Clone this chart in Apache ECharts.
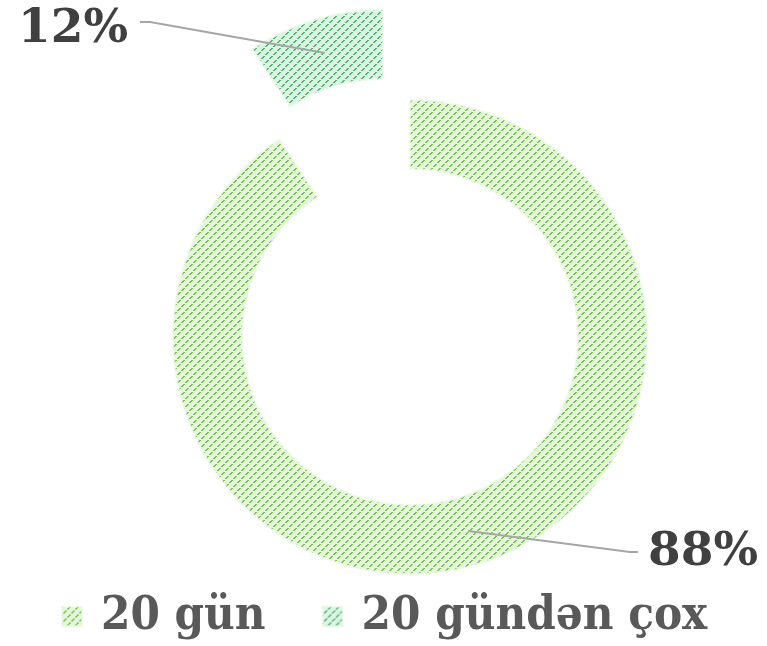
<!DOCTYPE html>
<html>
<head>
<meta charset="utf-8">
<script src="https://cdn.jsdelivr.net/npm/echarts@6/dist/echarts.min.js"></script>
<style>
html,body{margin:0;padding:0;background:#fff;}
#c{width:767px;height:646px;}
</style>
</head>
<body>
<div id="c"></div>
<script>
// ---- data ----
const categories = ['20 gün', '20 gündən çox'];
const shares = [90.7, 9.3];          // slice sizes as drawn in the picture
const labelTexts = ['88%', '12%'];   // printed data labels
const explodedIndex = 1;

// ---- styles ----
function makePattern(bg, fg) {
  const c = document.createElement('canvas');
  c.width = 8; c.height = 8;
  const g = c.getContext('2d');
  g.fillStyle = bg; g.fillRect(0, 0, 8, 8);
  g.fillStyle = fg;
  for (let y = 0; y < 8; y++) {
    if (y % 4 === 3) continue;
    const x = ((7 - y) % 8 + 8) % 8;
    g.fillRect(x, y, 2, 1);
    if (x === 7) g.fillRect(0, y, 1, 1);
  }
  return { image: c, repeat: 'repeat' };
}
const fills = [makePattern('#e6f5de', '#78c64c'), makePattern('#dcf3e6', '#4fbb6d')];
const labelPos = [
  { x: 648, y: 553 },
  { x: 18, y: 30 }
];
const center = [410, 337];
const ringInner = 168, ringOuter = 237, explodeDist = 94;
const labelFont = { family: '"DejaVu Serif", serif', size: 47 };
const total = shares.reduce((a, b) => a + b, 0);

// bisector angle (degrees clockwise from 12 o'clock) for each slice
const bisect = [];
let acc = 0;
shares.forEach(v => { bisect.push((acc + v / 2) / total * 360); acc += v; });
function polar(c, r, deg) {
  const a = deg * Math.PI / 180;
  return [c[0] + r * Math.sin(a), c[1] - r * Math.cos(a)];
}
const centers = categories.map((_, i) =>
  i === explodedIndex ? polar(center, explodeDist, bisect[i]) : center);

function textWidth(t) {
  const g = document.createElement('canvas').getContext('2d');
  g.font = 'bold ' + labelFont.size + 'px ' + labelFont.family;
  return g.measureText(t).width;
}

function makeSeries(idx) {
  const c = centers[idx];
  return {
    type: 'pie',
    center: c,
    radius: [ringInner, ringOuter],
    startAngle: 90,
    clockwise: true,
    avoidLabelOverlap: false,
    emphasis: { disabled: true },
    itemStyle: { borderWidth: 2, borderColor: 'rgba(238,249,232,0.7)' },
    label: {
      show: true, position: 'outside',
      formatter: p => labelTexts[p.dataIndex],
      fontFamily: labelFont.family, fontWeight: 'bold',
      fontSize: labelFont.size, color: '#404040'
    },
    labelLine: { show: false },
    labelLayout: function (params) {
      const lp = labelPos[params.dataIndex];
      return { x: lp.x, y: lp.y, align: 'left', verticalAlign: 'middle' };
    },
    data: categories.map((name, i) => {
      const on = i === idx;
      return {
        name: on ? name : '',
        value: shares[i],
        itemStyle: on ? { color: fills[i] } : { color: 'rgba(0,0,0,0)', borderWidth: 0 },
        label: { show: on },
        silent: !on
      };
    })
  };
}

// leader lines from the middle of each ring slice to its label
const leaders = categories.map((_, i) => {
  const lp = labelPos[i];
  const start = polar(centers[i], (ringInner + ringOuter) / 2, bisect[i]);
  let endX, bendX, ly;
  if (lp.x > centers[i][0]) { endX = lp.x - 10; bendX = endX - 8; ly = lp.y - 1; }
  else { endX = lp.x + textWidth(labelTexts[i]) + 12; bendX = endX + 10; ly = lp.y - 8; }
  return {
    type: 'polyline', z: 100, silent: true,
    shape: { points: [start, [bendX, ly], [endX, ly]] },
    style: { stroke: '#a6a6a6', lineWidth: 2, fill: null }
  };
});

const chart = echarts.init(document.getElementById('c'), null, { renderer: 'canvas' });
chart.setOption({
  animation: false,
  legend: {
    data: categories,
    left: 56, top: 588,
    icon: 'rect', itemWidth: 20, itemHeight: 20, itemGap: 56,
    selectedMode: false,
    textStyle: {
      fontFamily: '"DejaVu Serif Condensed", "DejaVu Serif", serif',
      fontWeight: 'bold', fontSize: 47, color: '#595959',
      padding: [0, 0, 0, 14]
    }
  },
  graphic: leaders,
  series: categories.map((_, i) => makeSeries(i))
});
</script>
</body>
</html>
